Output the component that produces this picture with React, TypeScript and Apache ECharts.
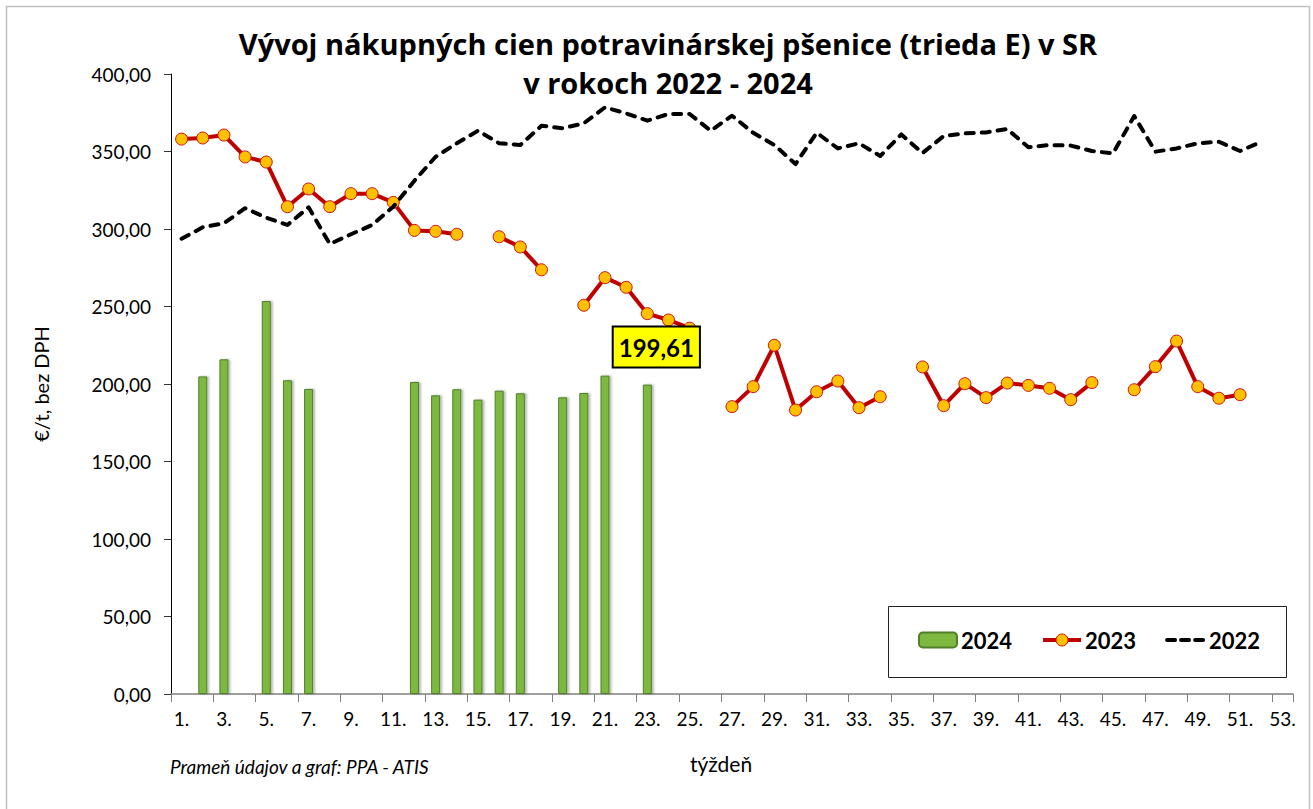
import React, { useEffect, useRef } from "react";
import * as echarts from "echarts";

const weekLabels = [
  "1.", "2.", "3.", "4.", "5.", "6.", "7.", "8.", "9.", "10.",
  "11.", "12.", "13.", "14.", "15.", "16.", "17.", "18.", "19.", "20.",
  "21.", "22.", "23.", "24.", "25.", "26.", "27.", "28.", "29.", "30.",
  "31.", "32.", "33.", "34.", "35.", "36.", "37.", "38.", "39.", "40.",
  "41.", "42.", "43.", "44.", "45.", "46.", "47.", "48.", "49.", "50.",
  "51.", "52.", "53.",
];

const values2024: (number | null)[] = [
  null, 204.9, 215.9, null, 253.5, 202.4, 196.8, null, null, null,
  null, 201.3, 192.7, 196.6, 189.9, 195.7, 194.0, null, 191.4, 194.2,
  205.4, null, 199.61, null, null, null, null, null, null, null,
  null, null, null, null, null, null, null, null, null, null,
  null, null, null, null, null, null, null, null, null, null,
  null, null, null,
];

const values2023: (number | null)[] = [
  358.0, 358.7, 360.6, 346.5, 343.2, 314.4, 325.8, 314.4, 322.8, 322.8,
  317.2, 299.1, 298.5, 296.6, null, 295.0, 288.4, 273.7, null, 250.8,
  268.6, 262.4, 245.4, 241.3, 236.0, null, 185.4, 198.3, 225.0, 183.2,
  195.0, 201.9, 184.7, 191.8, null, 211.0, 186.0, 200.2, 191.2, 200.6,
  199.1, 197.2, 189.9, 200.9, null, 196.3, 211.2, 227.7, 198.3, 190.8,
  193.1, null, null,
];

const values2022: (number | null)[] = [
  293.7, 301.1, 303.7, 313.4, 307.3, 302.6, 314.0, 290.3, 296.6, 302.6,
  314.4, 331.2, 346.6, 355.3, 363.4, 355.3, 354.2, 366.6, 365.0, 368.2,
  378.5, 374.6, 369.9, 374.2, 374.2, 363.4, 373.1, 362.1, 354.2, 341.9,
  362.1, 352.0, 355.3, 347.1, 361.0, 349.0, 360.0, 361.7, 362.3, 364.5,
  352.7, 354.2, 353.8, 350.3, 348.8, 372.9, 349.9, 352.0, 355.3, 356.3,
  350.3, 356.3, null,
];

const highlightIndex = 22; // week 23 of 2024

const FONT = "Lato, 'Open Sans', sans-serif";
const TITLE_FONT = "'Open Sans', Lato, sans-serif";

export default function App() {
  const ref = useRef<HTMLDivElement>(null);

  useEffect(() => {
    if (!ref.current) return;
    const chart = echarts.init(ref.current, undefined, { renderer: "svg" });

    const barData = values2024.map((v, i) => {
      if (i === highlightIndex && v != null) {
        return {
          value: v,
          label: {
            show: true,
            position: "top",
            distance: 18,
            offset: [9, 0],
            formatter: () => v.toFixed(2).replace(".", ","),
            fontFamily: FONT,
            fontWeight: "bold",
            fontSize: 24,
            color: "#000",
            backgroundColor: "#FFFF00",
            borderColor: "#000",
            borderWidth: 2,
            padding: [6, 5, 5, 5],
            lineHeight: 28,
          },
        };
      }
      return v;
    });

    const option: any = {
      animation: false,
      backgroundColor: "#fff",
      textStyle: { fontFamily: FONT },
      grid: { left: 171, right: 20, top: 74, bottom: 115, containLabel: false },
      xAxis: {
        type: "category",
        data: weekLabels,
        boundaryGap: true,
        axisLine: { show: true, lineStyle: { color: "#7f7f7f", width: 1.5 } },
        axisTick: { show: true, interval: 1, length: 8, lineStyle: { color: "#7f7f7f" } },
        axisLabel: {
          interval: 1,
          margin: 15,
          fontSize: 19,
          color: "#000",
          fontFamily: FONT,
        },
        splitLine: { show: false },
      },
      yAxis: {
        type: "value",
        min: 0,
        max: 400,
        interval: 50,
        name: "€/t, bez DPH",
        nameLocation: "middle",
        nameGap: 120,
        nameTextStyle: { fontSize: 20, color: "#000", fontFamily: FONT },
        axisLine: { show: true, lineStyle: { color: "#000", width: 1 } },
        axisTick: { show: true, length: 7, lineStyle: { color: "#333" } },
        axisLabel: {
          margin: 20,
          fontSize: 19,
          color: "#000",
          fontFamily: FONT,
          formatter: (v: number) => v.toFixed(2).replace(".", ","),
        },
        splitLine: { show: false },
      },
      legend: {
        left: 918,
        top: 629,
        itemWidth: 38,
        itemHeight: 15,
        itemGap: 29,
        padding: 0,
        textStyle: { fontSize: 22, fontWeight: "bold", color: "#000", fontFamily: FONT, padding: [0, 0, 0, -1] },
        data: [
          { name: "2024" },
          {
            name: "2023",
            itemStyle: { color: "#FFC000", borderColor: "#D01010", borderWidth: 1 },
            lineStyle: { color: "#C00000", width: 4 },
          },
          {
            name: "2022",
            itemStyle: { color: "rgba(0,0,0,0)", borderColor: "rgba(0,0,0,0)", opacity: 0 },
            lineStyle: { color: "#000", width: 4, type: [8, 6], cap: "round" },
          },
        ],
      },
      graphic: [
        {
          type: "rect",
          shape: { x: 6.5, y: 6.5, width: 1303, height: 830 },
          style: { fill: "none", stroke: "#c0c0c0", lineWidth: 1.5 },
          silent: true,
          z: -10,
        },
        {
          type: "rect",
          shape: { x: 888.5, y: 606.5, width: 398, height: 71 },
          style: { fill: "#fff", stroke: "#222", lineWidth: 1 },
          silent: true,
          z: 0,
        },
        {
          type: "text",
          x: 668,
          y: 24,
          style: {
            text: "Vývoj nákupných cien potravinárskej pšenice (trieda E) v SR\nv rokoch 2022 - 2024",
            textAlign: "center",
            fontFamily: TITLE_FONT,
            fontWeight: "bold",
            fontSize: 29,
            lineHeight: 39,
            fill: "#000",
          },
          silent: true,
        },
        {
          type: "text",
          x: 721,
          y: 763,
          style: {
            text: "týždeň",
            textAlign: "center",
            textVerticalAlign: "middle",
            fontFamily: FONT,
            fontSize: 21,
            fill: "#000",
          },
          silent: true,
        },
        {
          type: "text",
          x: 170,
          y: 766,
          style: {
            text: "Prameň údajov a graf: PPA - ATIS",
            textAlign: "left",
            textVerticalAlign: "middle",
            fontFamily: FONT,
            fontStyle: "italic",
            fontSize: 19,
            fill: "#000",
          },
          silent: true,
        },
      ],
      series: [
        {
          name: "2024",
          type: "bar",
          data: barData,
          barWidth: 9,
          z: 5,
          itemStyle: {
            color: "#7DB940",
            borderColor: "#4F7F26",
            borderWidth: 1,
            shadowColor: "rgba(0,0,0,0.28)",
            shadowBlur: 2,
            shadowOffsetX: 2,
            shadowOffsetY: 0,
          },
        },
        {
          name: "2023",
          type: "line",
          data: values2023,
          connectNulls: false,
          symbol: "circle",
          symbolSize: 12,
          showAllSymbol: true,
          lineStyle: { color: "#C00000", width: 4 },
          itemStyle: { color: "#FFC000", borderColor: "#D01010", borderWidth: 1 },
          z: 3,
        },
        {
          name: "2022",
          type: "line",
          data: values2022,
          connectNulls: false,
          symbol: "none",
          showSymbol: false,
          lineStyle: { color: "#000", width: 4, type: [8, 8], cap: "round", join: "round" },
          itemStyle: { color: "#000" },
          z: 4,
        },
      ],
    };

    chart.setOption(option);
    return () => chart.dispose();
  }, []);

  return (
    <div
      ref={ref}
      style={{ position: "absolute", left: 0, top: 0, width: 1313, height: 809 }}
    />
  );
}
